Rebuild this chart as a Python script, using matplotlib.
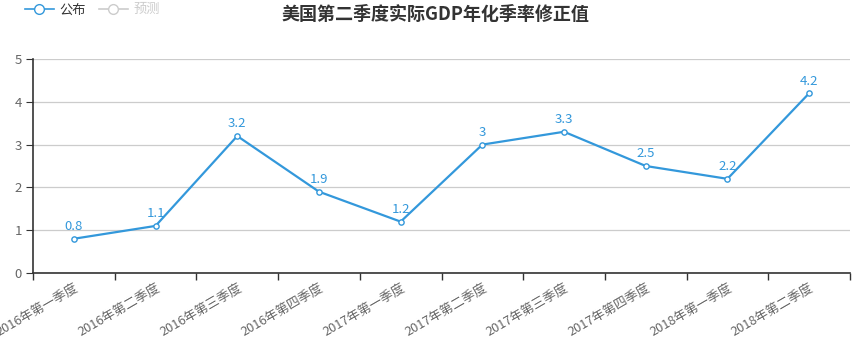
import matplotlib
matplotlib.use("Agg")
import matplotlib.pyplot as plt
from matplotlib.lines import Line2D

plt.rcParams['font.family'] = ['Noto Sans CJK SC', 'DejaVu Sans']

categories = ["2016年第一季度", "2016年第二季度", "2016年第三季度", "2016年第四季度",
              "2017年第一季度", "2017年第二季度", "2017年第三季度", "2017年第四季度",
              "2018年第一季度", "2018年第二季度"]
published = [0.8, 1.1, 3.2, 1.9, 1.2, 3.0, 3.3, 2.5, 2.2, 4.2]
value_labels = ["0.8", "1.1", "3.2", "1.9", "1.2", "3", "3.3", "2.5", "2.2", "4.2"]
yticks = [0, 1, 2, 3, 4, 5]

blue = '#3398DB'
grey_text = '#666666'

fig = plt.figure(figsize=(8.6, 3.4), dpi=100)
ax = fig.add_axes([33/860, 1-273/340, (850-33)/860, (273-59)/340])

x = list(range(len(categories)))
ax.plot(x, published, color=blue, lw=1.6, marker='o', ms=3.8, mfc='white', mec=blue, mew=1.0, zorder=3)
for xi, v, t in zip(x, published, value_labels):
    ax.annotate(t, (xi, v), xytext=(0, 4), textcoords='offset points', ha='center', va='bottom',
                color=blue, fontsize=9.5)

ax.set_xlim(-0.5, len(categories) - 0.5)
ax.set_ylim(0, 5)
ax.set_yticks(yticks)
ax.set_yticklabels([str(t) for t in yticks])
ax.yaxis.grid(True, color='#cccccc', lw=0.9)
ax.set_axisbelow(True)

ax.set_xticks(x)
ax.set_xticklabels(categories, rotation=30, ha='right', rotation_mode='anchor', color=grey_text, fontsize=9.2)
ax.tick_params(axis='x', which='major', length=0, pad=6)
ax.set_xticks([i - 0.5 for i in range(len(categories) + 1)], minor=True)
ax.tick_params(axis='x', which='minor', length=5, color='#333333', width=1)
ax.tick_params(axis='y', length=5, color='#333333', labelcolor=grey_text, labelsize=9.5, pad=3)

for s in ['top', 'right']:
    ax.spines[s].set_visible(False)
for s in ['left', 'bottom']:
    ax.spines[s].set_color('#333333')
    ax.spines[s].set_linewidth(1.2)

fig.text(435/860, 1-14/340, "美国第二季度实际GDP年化季率修正值", ha='center', va='center',
         fontsize=13, fontweight='bold', color='#333333')

h1 = Line2D([0], [0], color=blue, lw=1.2, marker='o', ms=7, mfc='white', mec=blue, mew=1.0)
h2 = Line2D([0], [0], color='#cccccc', lw=1.2, marker='o', ms=7, mfc='white', mec='#cccccc', mew=1.0)
leg = fig.legend([h1, h2], ["公布", "预测"], loc='upper left', bbox_to_anchor=(0.015, 1.025),
                 ncol=2, frameon=False, fontsize=9.5, handlelength=2.2, columnspacing=1.0, handletextpad=0.4)
leg.get_texts()[0].set_color('#333333')
leg.get_texts()[1].set_color('#cccccc')

fig.savefig("out.png", dpi=100)
